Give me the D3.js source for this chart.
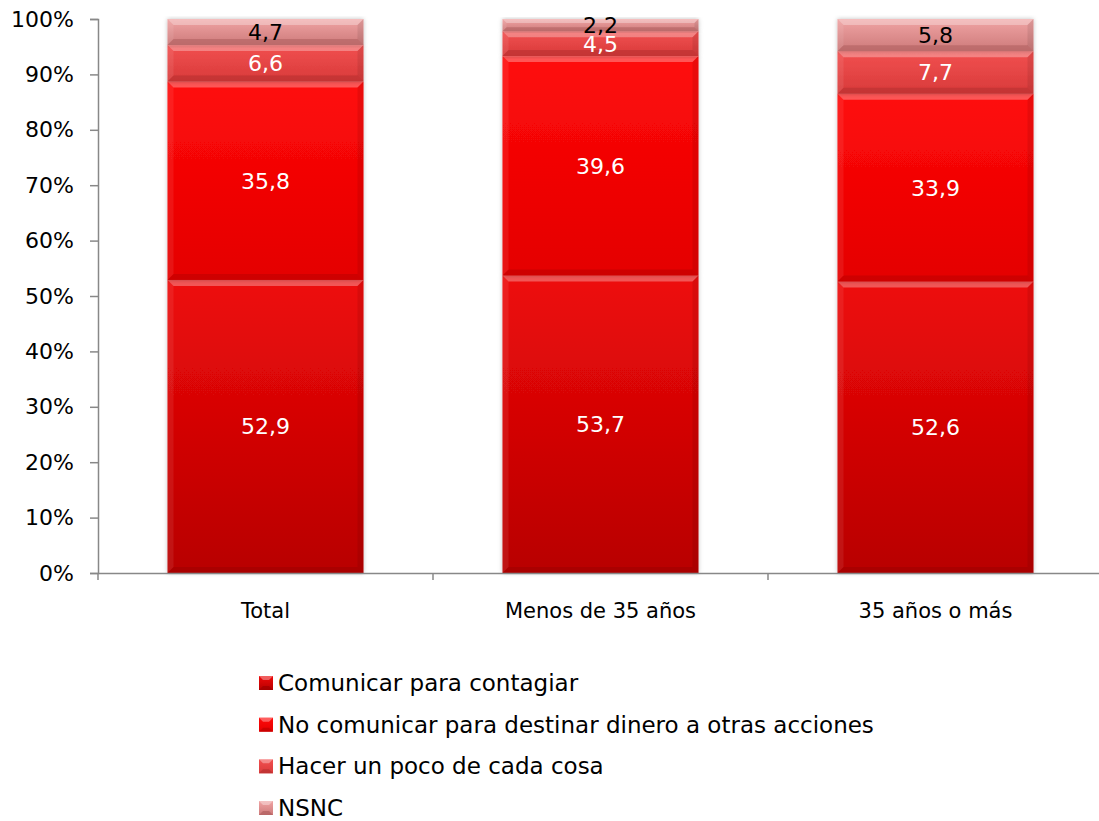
<!DOCTYPE html>
<html>
<head>
<meta charset="utf-8">
<script src="https://cdn.jsdelivr.net/npm/d3@7"></script>
<style>
  body { margin: 0; background: #fff; }
  svg { font-family: "DejaVu Sans", sans-serif; }
</style>
</head>
<body>
<svg id="chart" width="1099" height="821"></svg>
<script>
const categories = ["Total", "Menos de 35 años", "35 años o más"];
const seriesNames = ["Comunicar para contagiar", "No comunicar para destinar dinero a otras acciones", "Hacer un poco de cada cosa", "NSNC"];
const comunicar = [52.9, 53.7, 52.6];
const noComunicar = [35.8, 39.6, 33.9];
const hacerPoco = [6.6, 4.5, 7.7];
const nsnc = [4.7, 2.2, 5.8];
const yTicks = [0, 10, 20, 30, 40, 50, 60, 70, 80, 90, 100];

const seriesValues = [comunicar, noComunicar, hacerPoco, nsnc];
const rows = categories.map((c, i) => {
  const r = { cat: c };
  seriesNames.forEach((s, j) => r[s] = seriesValues[j][i]);
  return r;
});

// top, bottom colours per series + label colour
const palette = [
  { top: "#ee0a0a", bot: "#b80000", edge: "#a00000", label: "#fff" },
  { top: "#ff0a0a", bot: "#e40000", edge: "#c00000", label: "#fff" },
  { top: "#f25050", bot: "#d83a3a", edge: "#b83030", label: "#fff" },
  { top: "#f0a4a4", bot: "#cd7a7a", edge: "#b06060", label: "#000" }
];

const svg = d3.select("#chart");
const margin = { left: 98, top: 19, right: 1103, bottom: 573 };

const x = d3.scaleBand().domain(categories).range([margin.left, margin.right]).paddingInner(0.415).paddingOuter(0.2075);
const y = d3.scaleLinear().domain([0, 100]).range([margin.bottom, margin.top]);

const defs = svg.append("defs");
palette.forEach((p, i) => {
  const g = defs.append("linearGradient").attr("id", "g" + i).attr("x1", 0).attr("y1", 0).attr("x2", 0).attr("y2", 1);
  g.append("stop").attr("offset", "0%").attr("stop-color", p.top);
  g.append("stop").attr("offset", "100%").attr("stop-color", p.bot);
});
const shadow = defs.append("filter").attr("id", "shadow").attr("x", -0.05).attr("width", 1.1);
shadow.append("feDropShadow").attr("dx", 0).attr("dy", 0).attr("stdDeviation", 2).attr("flood-color", "#000").attr("flood-opacity", 0.25);

const stacked = d3.stack().keys(seriesNames)(rows);

// y axis
const yAxis = svg.append("g").attr("transform", `translate(${margin.left},0)`)
  .call(d3.axisLeft(y).tickValues(yTicks).tickFormat(d => d + "%").tickSize(8).tickPadding(16));
yAxis.select(".domain").attr("stroke", "#888").attr("stroke-width", 1.5);
yAxis.selectAll(".tick line").attr("stroke", "#888").attr("stroke-width", 1.5);
yAxis.selectAll(".tick text").attr("font-size", 22).attr("fill", "#000").attr("font-family", "DejaVu Sans");

// bars
const layers = svg.append("g").selectAll("g").data(stacked).enter().append("g");
layers.each(function(layer, i) {
  const p = palette[i];
  const g = d3.select(this);
  layer.forEach(d => {
    const x0 = x(d.data.cat), w = x.bandwidth();
    const y0 = y(d[1]), h = y(d[0]) - y(d[1]);
    const seg = g.append("g");
    seg.append("rect").attr("x", x0).attr("y", y0).attr("width", w).attr("height", h)
      .attr("fill", `url(#g${i})`).attr("filter", "url(#shadow)");
    // bevel
    const b = Math.min(6, h / 3);
    seg.append("path")
      .attr("d", `M${x0},${y0} L${x0 + w},${y0} L${x0 + w - b},${y0 + b} L${x0 + b},${y0 + b} Z`)
      .attr("fill", "#fff").attr("opacity", 0.3);
    seg.append("path")
      .attr("d", `M${x0},${y0 + h} L${x0 + w},${y0 + h} L${x0 + w - b},${y0 + h - b} L${x0 + b},${y0 + h - b} Z`)
      .attr("fill", p.edge).attr("opacity", 0.6);
    seg.append("path")
      .attr("d", `M${x0},${y0} L${x0 + b},${y0 + b} L${x0 + b},${y0 + h - b} L${x0},${y0 + h} Z`)
      .attr("fill", "#fff").attr("opacity", 0.08);
    seg.append("path")
      .attr("d", `M${x0 + w},${y0} L${x0 + w - b},${y0 + b} L${x0 + w - b},${y0 + h - b} L${x0 + w},${y0 + h} Z`)
      .attr("fill", "#000").attr("opacity", 0.08);
  });
});

// value labels
layers.each(function(layer, i) {
  d3.select(this).selectAll("text.lab").data(layer).enter().append("text")
    .attr("class", "lab")
    .attr("x", d => x(d.data.cat) + x.bandwidth() / 2)
    .attr("y", d => (y(d[0]) + y(d[1])) / 2 + 8)
    .attr("text-anchor", "middle")
    .attr("font-size", 22)
    .attr("fill", palette[i].label)
    .text(d => d3.format(".1f")(d[1] - d[0]).replace(".", ","));
});

// x axis
const xAxis = svg.append("g").attr("transform", `translate(0,${margin.bottom})`)
  .call(d3.axisBottom(x).tickSize(0).tickPadding(30));
xAxis.select(".domain").attr("stroke", "#888").attr("stroke-width", 1.5);
xAxis.selectAll(".tick text").attr("font-size", 21).attr("fill", "#000").attr("font-family", "DejaVu Sans");
const bounds = [margin.left].concat(categories.map(c => x(c) + x.bandwidth() + x.step() * x.paddingInner() / 2));
svg.append("g").selectAll("line").data(bounds).enter().append("line")
  .attr("x1", d => d).attr("x2", d => d).attr("y1", margin.bottom).attr("y2", margin.bottom + 7)
  .attr("stroke", "#888").attr("stroke-width", 1.5);

// legend
const legend = svg.append("g");
const legY = d3.scalePoint().domain(seriesNames).range([683, 808]);
seriesNames.forEach((s, i) => {
  const gy = legY(s);
  const gg = legend.append("g").attr("transform", `translate(259,${gy})`);
  gg.append("rect").attr("x", 0).attr("y", -7).attr("width", 14).attr("height", 14).attr("fill", `url(#g${i})`);
  gg.append("path").attr("d", "M0,-7 L14,-7 L10,-3 L4,-3 Z").attr("fill", "#fff").attr("opacity", 0.35);
  gg.append("path").attr("d", "M0,7 L14,7 L10,3 L4,3 Z").attr("fill", palette[i].edge).attr("opacity", 0.7);
  gg.append("text").attr("x", 19).attr("y", 8).attr("font-size", 23).attr("fill", "#000").text(s);
});
</script>
</body>
</html>
